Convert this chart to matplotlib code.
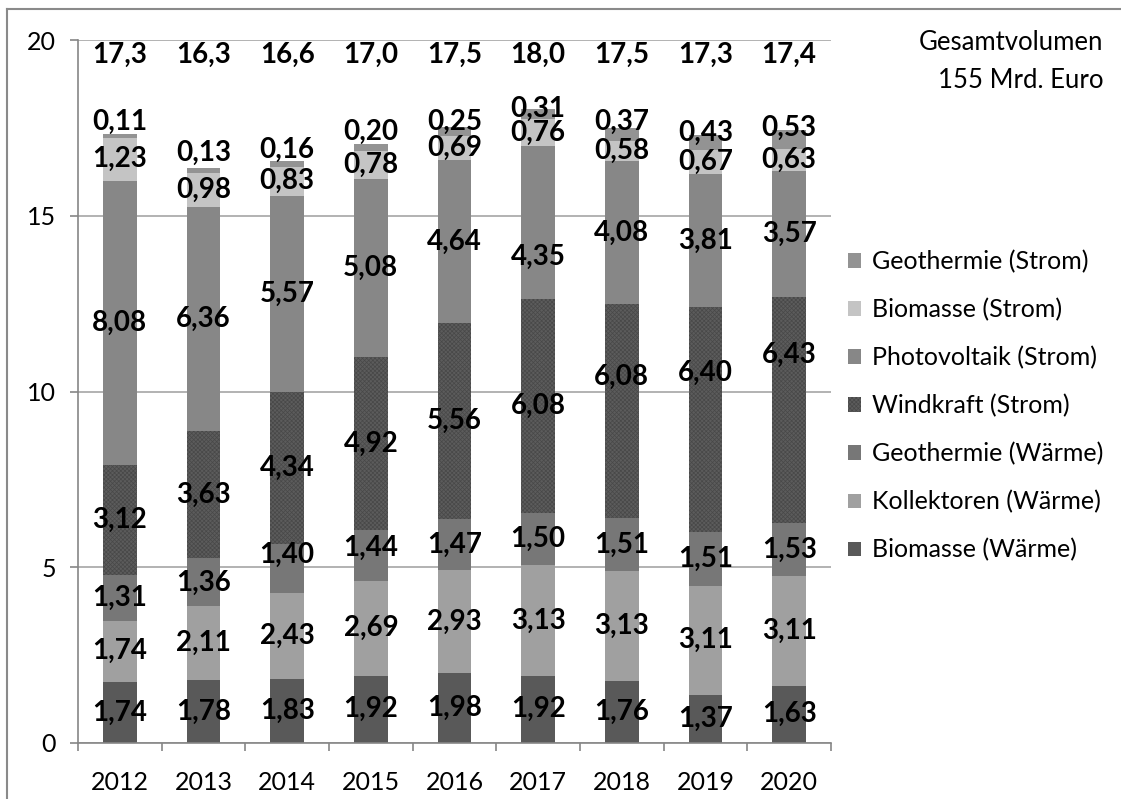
import matplotlib
matplotlib.use("Agg")
import matplotlib.pyplot as plt
import numpy as np
from matplotlib.lines import Line2D
from matplotlib.patches import Patch

plt.rcParams["font.family"] = ["Lato", "DejaVu Sans"]
plt.rcParams["hatch.linewidth"] = 0.5

years = ["2012", "2013", "2014", "2015", "2016", "2017", "2018", "2019", "2020"]

# stacked from bottom to top
biomasse_waerme = [1.74, 1.78, 1.83, 1.92, 1.98, 1.92, 1.76, 1.37, 1.63]
kollektoren_waerme = [1.74, 2.11, 2.43, 2.69, 2.93, 3.13, 3.13, 3.11, 3.11]
geothermie_waerme = [1.31, 1.36, 1.40, 1.44, 1.47, 1.50, 1.51, 1.51, 1.53]
windkraft_strom = [3.12, 3.63, 4.34, 4.92, 5.56, 6.08, 6.08, 6.40, 6.43]
photovoltaik_strom = [8.08, 6.36, 5.57, 5.08, 4.64, 4.35, 4.08, 3.81, 3.57]
biomasse_strom = [1.23, 0.98, 0.83, 0.78, 0.69, 0.76, 0.58, 0.67, 0.63]
geothermie_strom = [0.11, 0.13, 0.16, 0.20, 0.25, 0.31, 0.37, 0.43, 0.53]

totals = ["17,3", "16,3", "16,6", "17,0", "17,5", "18,0", "17,5", "17,3", "17,4"]

series = [
    ("Biomasse (Wärme)", biomasse_waerme),
    ("Kollektoren (Wärme)", kollektoren_waerme),
    ("Geothermie (Wärme)", geothermie_waerme),
    ("Windkraft (Strom)", windkraft_strom),
    ("Photovoltaik (Strom)", photovoltaik_strom),
    ("Biomasse (Strom)", biomasse_strom),
    ("Geothermie (Strom)", geothermie_strom),
]

# styling
colors = {
    "Biomasse (Wärme)": "#595959",
    "Kollektoren (Wärme)": "#a0a0a0",
    "Geothermie (Wärme)": "#777777",
    "Windkraft (Strom)": "#5c5c5c",
    "Photovoltaik (Strom)": "#878787",
    "Biomasse (Strom)": "#c4c4c4",
    "Geothermie (Strom)": "#939393",
}
# manual label nudges (data units, relative to segment centre), as in the original
label_shift = {
    "Geothermie (Wärme)": [0, 0, 0.39, 0.22, 0, 0, 0, 0, 0],
    "Windkraft (Strom)": [0, 0, 0, 0, 0, 0, 0.98, 1.33, 1.55],
    "Photovoltaik (Strom)": [0, 0, 0, 0, 0, -0.97, 0, 0, 0],
    "Geothermie (Strom)": [0.39, 0.50, 0.39, 0.46, 0.29, 0.16, 0.36, 0.26, 0.33],
}

W, H = 1121, 799
fig = plt.figure(figsize=(W / 100, H / 100), dpi=100)
ax = fig.add_axes([78 / W, 1 - 743 / H, (831 - 78) / W, (743 - 40) / H])

x = np.arange(len(years))
bottom = np.zeros(len(years))
handles = []
for name, vals in series:
    vals = np.array(vals)
    kw = {}
    if name == "Windkraft (Strom)":
        kw = dict(hatch="xxxxxxxx", edgecolor="#484848", linewidth=0)
    ax.bar(x, vals, 0.4, bottom=bottom, color=colors[name], zorder=2, **kw)
    shift = label_shift.get(name, [0] * len(years))
    for i, v in enumerate(vals):
        yc = bottom[i] + v / 2 + shift[i]
        ax.text(x[i], yc, f"{v:.2f}".replace(".", ","), ha="center", va="center",
                fontsize=20, fontweight="bold", color="black", zorder=3)
    handles.append(Patch(facecolor=colors[name], label=name, **kw))
    bottom += vals

for i, t in enumerate(totals):
    ax.text(x[i], 19.57, t, ha="center", va="center", fontsize=20,
            fontweight="bold", zorder=3)

ax.set_xlim(-0.5, len(years) - 0.5)
ax.set_ylim(0, 20)
ax.set_yticks([0, 5, 10, 15, 20])
ax.set_xticks(x)
ax.set_xticklabels(years)
ax.set_xticks(np.arange(-0.5, len(years)), minor=True)
ax.tick_params(axis="x", which="major", length=0, pad=20, labelsize=18)
ax.tick_params(axis="x", which="minor", length=6, width=1.2, color="#868686")
ax.tick_params(axis="y", length=6, width=1.2, color="#868686", pad=10, labelsize=18)
ax.grid(axis="y", color="#a6a6a6", linewidth=1.2, zorder=0)
for s in ["top", "right"]:
    ax.spines[s].set_visible(False)
for s in ["left", "bottom"]:
    ax.spines[s].set_color("#868686")
    ax.spines[s].set_linewidth(1.2)
    ax.spines[s].set_zorder(4)

fig.legend(handles=handles[::-1], loc="upper left", bbox_to_anchor=(848 / W, 1 - 250 / H),
           frameon=False, fontsize=18, handlelength=0.5, handleheight=0.5,
           handletextpad=0.45, labelspacing=0.99, borderpad=0, borderaxespad=0)

fig.text(1103 / W, 1 - 42 / H, "Gesamtvolumen", ha="right", va="center", fontsize=18.5)
fig.text(1103 / W, 1 - 80 / H, "155 Mrd. Euro", ha="right", va="center", fontsize=18.5)

# outer chart frame (only left and top edges are inside the picture)
fig.add_artist(Line2D([7 / W, 7 / W], [0, 1 - 9 / H], color="#8a8a8a", lw=1.5))
fig.add_artist(Line2D([7 / W, 1], [1 - 9 / H, 1 - 9 / H], color="#8a8a8a", lw=1.5))

fig.savefig("out.png", dpi=100)
